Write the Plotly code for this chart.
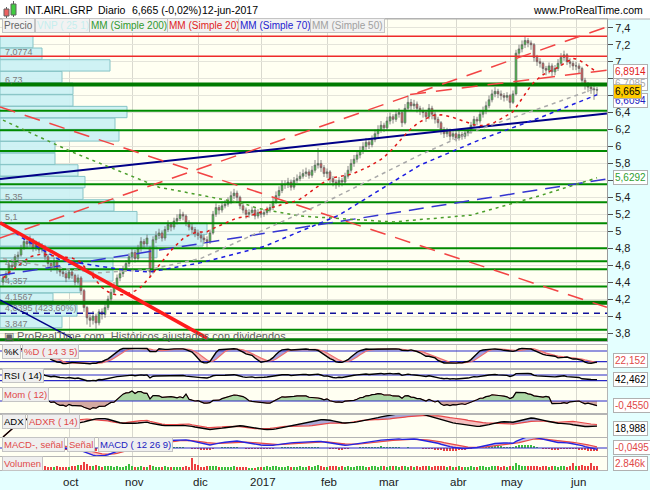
import numpy as np
import pandas as pd
import plotly.graph_objects as go

# ---------------- data ----------------
close = [4.45,4.50,4.60,4.58,4.70,4.72, 4.80,4.88,4.85,4.90,4.80,4.86,4.78,4.82, 4.70,4.62,4.58,4.65,4.55,4.52,
         4.50,4.45,4.52,4.48,4.40,4.45, 4.30,4.10,3.98, 3.95,4.00,3.92,4.05,4.02, 4.10,4.20,4.28,
         4.35,4.45,4.50,4.55,4.62, 4.70,4.75,4.68, 4.80,4.88,4.85,4.92,4.52, 4.90,4.95,4.98,4.92,
         5.02,5.08,5.05,5.12, 5.15,5.20,5.18,5.10, 5.05,5.02,4.98,4.95, 4.92,4.90,4.88,4.98,
         5.20,5.28,5.25,5.30,5.32, 5.35,5.42,5.45,5.40, 5.30,5.25,5.20,5.22, 5.25,5.18,5.22,5.20,
         5.22,5.25,5.28, 5.35,5.42,5.48,5.55, 5.55,5.58,5.52,5.60,5.62, 5.65,5.68,5.70,5.66,5.72,
         5.78,5.80,5.75,5.68,5.70, 5.62,5.58,5.55,5.60,5.58, 5.65,5.72,5.80,5.85,5.90,
         5.95,6.00,6.05,6.02,6.08, 6.15,6.20,6.25,6.22, 6.30,6.35,6.32,6.38,6.40, 6.28,6.45,6.52,6.48,
         6.50,6.45,6.42, 6.40,6.35,6.45,6.38, 6.32,6.28, 6.20,6.15,6.18,6.12,6.15,6.10,6.14,6.12,6.16,6.18,
         6.25,6.32,6.30, 6.38,6.42,6.48, 6.55,6.62,6.65, 6.62,6.60,6.58,6.60, 6.52,6.62, 7.10,
         7.15,7.20,7.25,7.22,7.20, 7.05,7.00,6.98, 6.92,6.90,6.95,6.88, 6.92,6.98,7.05,7.08,
         7.00,6.98,6.95, 6.95,6.92,6.78, 6.72,6.70,6.68, 6.67,6.665]
opens = [4.40,4.45,4.50,4.60,4.58,4.70, 4.72,4.80,4.88,4.85,4.90,4.80,4.86,4.78, 4.82,4.70,4.62,4.58,4.65,4.55,
         4.52,4.50,4.45,4.52,4.48,4.40, 4.45,4.30,4.10, 3.98,3.95,4.00,3.92,4.05, 4.02,4.10,4.20,
         4.28,4.35,4.45,4.50,4.55, 4.62,4.70,4.75, 4.68,4.80,4.88,4.85,4.80, 4.52,4.90,4.95,4.98,
         4.92,5.02,5.08,5.05, 5.12,5.15,5.20,5.18, 5.10,5.05,5.02,4.98, 4.95,4.92,4.90,4.88,
         4.98,5.20,5.28,5.25,5.30, 5.32,5.35,5.42,5.45, 5.40,5.30,5.25,5.20, 5.22,5.25,5.18,5.22,
         5.20,5.22,5.25, 5.28,5.35,5.42,5.48, 5.55,5.55,5.58,5.52,5.60, 5.62,5.65,5.68,5.70,5.66,
         5.72,5.78,5.80,5.75,5.68, 5.70,5.62,5.58,5.55,5.60, 5.58,5.65,5.72,5.80,5.85,
         5.90,5.95,6.00,6.05,6.02, 6.08,6.15,6.20,6.25, 6.22,6.30,6.35,6.32,6.38, 6.40,6.28,6.45,6.52,
         6.48,6.50,6.45, 6.42,6.40,6.35,6.45, 6.38,6.32, 6.28,6.20,6.15,6.18,6.12,6.15,6.10,6.14,6.12,6.16,
         6.18,6.25,6.32, 6.30,6.38,6.42, 6.48,6.55,6.62, 6.65,6.62,6.60,6.58, 6.60,6.52, 6.62,
         7.10,7.15,7.20,7.25,7.22, 7.20,7.05,7.00, 6.98,6.92,6.90,6.95, 6.88,6.92,6.98,7.05,
         7.08,7.00,6.98, 6.95,6.95,6.92, 6.78,6.72,6.70, 6.68,6.67]
highs = [4.48,4.53,4.63,4.64,4.73,4.76, 4.84,4.93,4.91,4.95,4.92,4.89,4.88,4.86, 4.84,4.73,4.66,4.69,4.67,4.59,
         4.56,4.53,4.56,4.55,4.50,4.49, 4.47,4.32,4.12, 4.02,4.06,4.03,4.08,4.09, 4.14,4.24,4.32,
         4.40,4.49,4.55,4.59,4.66, 4.74,4.80,4.78, 4.84,4.93,4.91,4.96,4.82, 4.94,5.00,5.03,5.01,
         5.06,5.13,5.11,5.16, 5.20,5.26,5.23,5.20, 5.13,5.09,5.05,5.02, 4.99,4.96,4.94,5.02,
         5.24,5.33,5.31,5.35,5.37, 5.40,5.47,5.50,5.48, 5.42,5.33,5.28,5.26, 5.29,5.28,5.26,5.25,
         5.26,5.29,5.32, 5.40,5.47,5.53,5.60, 5.60,5.63,5.61,5.64,5.67, 5.70,5.73,5.75,5.73,5.77,
         5.84,5.98,5.84,5.78,5.74, 5.72,5.65,5.61,5.64,5.63, 5.69,5.77,5.85,5.90,5.95,
         6.00,6.05,6.10,6.08,6.13, 6.20,6.25,6.30,6.28, 6.35,6.40,6.38,6.43,6.45, 6.42,6.50,6.60,6.56,
         6.55,6.53,6.48, 6.46,6.43,6.50,6.48, 6.41,6.35, 6.30,6.23,6.22,6.21,6.19,6.18,6.18,6.17,6.20,6.22,
         6.29,6.36,6.35, 6.42,6.47,6.53, 6.60,6.67,6.70, 6.68,6.66,6.63,6.64, 6.62,6.66, 7.14,
         7.20,7.25,7.30,7.28,7.25, 7.22,7.08,7.04, 7.00,6.95,6.99,6.98, 6.96,7.03,7.10,7.13,
         7.10,7.04,7.01, 7.00,6.98,6.94, 6.81,6.76,6.73, 6.72,6.70]
lows = [4.36,4.42,4.48,4.54,4.56,4.66, 4.70,4.78,4.80,4.82,4.76,4.77,4.74,4.75, 4.66,4.58,4.52,4.55,4.50,4.47,
        4.46,4.40,4.43,4.44,4.36,4.37, 4.25,4.05,3.90, 3.87,3.90,3.85,3.89,3.96, 3.98,4.07,4.16,
        4.25,4.32,4.41,4.46,4.52, 4.58,4.66,4.63, 4.65,4.76,4.80,4.82,4.45, 4.50,4.86,4.91,4.88,
        4.89,4.99,5.00,5.02, 5.08,5.12,5.13,5.06, 5.01,4.97,4.93,4.90, 4.87,4.85,4.81,4.85,
        4.96,5.17,5.20,5.22,5.27, 5.29,5.32,5.38,5.35, 5.26,5.21,5.15,5.16, 5.18,5.14,5.15,5.16,
        5.17,5.19,5.22, 5.25,5.32,5.39,5.45, 5.50,5.51,5.48,5.49,5.57, 5.59,5.62,5.64,5.62,5.63,
        5.69,5.74,5.70,5.64,5.63, 5.57,5.53,5.50,5.52,5.53, 5.55,5.62,5.69,5.76,5.81,
        5.86,5.91,5.96,5.97,5.99, 6.05,6.11,6.16,6.17, 6.19,6.26,6.27,6.29,6.34, 6.23,6.26,6.42,6.43,
        6.44,6.40,6.37, 6.34,6.29,6.32,6.32, 6.27,6.22, 6.14,6.10,6.11,6.07,6.08,6.06,6.07,6.08,6.09,6.12,
        6.15,6.22,6.25, 6.27,6.34,6.38, 6.45,6.52,6.58, 6.57,6.55,6.53,6.54, 6.45,6.50, 6.60,
        7.06,7.11,7.16,7.17,7.14, 7.00,6.95,6.93, 6.86,6.84,6.86,6.83, 6.84,6.89,6.95,7.01,
        6.96,6.93,6.90, 6.90,6.86,6.73, 6.67,6.64,6.62, 6.55,6.60]
volume_k = [1800,2200,2500,1900,2400,2100,2600,2300,1900,2000,2700,2200,1800,2100,2500,2300,1900,2100,2600,2200,2000,2400,
            2300,2800,2600,3200,3600,5400,4200,3000,2600,3400,2900,2400,2600,3100,2500,2200,2700,2400,2300,2600,4300,
            2500,2300,2100,2800,2400,2200,3500,2900,2400,2100,2300,2600,2200,2000,2400,2100,1900,2300,2500,2200,8500,4100,
            3600,2400,2200,2800,2500,3000,2600,2200,2000,2300,2100,1900,2500,2200,2000,1800,2100,1500,1300,1600,1900,
            2000,2200,2500,2300,2800,2600,2400,2100,2300,2700,2200,2000,2400,2600,2300,2100,2500,2200,2800,3200,2600,2400,
            2300,2700,3000,2500,2200,2600,2400,2800,2300,2100,2500,2900,2600,2400,2200,2700,2500,2300,2800,2600,
            2400,2600,2900,2500,2300,3100,2700,2400,2600,2200,2500,2300,2700,2500,2900,2400,2600,2800,3000,2500,2300,2600,2400,
            2200,2500,2300,2100,2400,2600,2300,2000,2500,2700,2400,2200,2600,2900,2500,2300,2700,2400,
            2600,3100,4800,3300,2900,2700,2500,2800,3000,2600,2400,2700,2500,2300,2600,2800,2400,2500,2700,2300,3000,4900,
            2600,2800,3200,2700,2500,4600,3000,2846]

month_names = ["oct", "nov", "dic", "2017", "feb", "mar", "abr", "may", "jun"]
month_first_bar = [22, 43, 65, 86, 108, 128, 151, 169, 191]

# price-axis ticks (labels hidden behind the value boxes are blank)
price_ticks = [3.8, 4.0, 4.2, 4.4, 4.6, 4.8, 5.0, 5.2, 5.4, 5.6, 5.8, 6.0, 6.2, 6.4, 6.6, 6.8, 7.0, 7.2, 7.4]
price_tick_text = ["3,8", "4", "4,2", "4,4", "4,6", "4,8", "5", "5,2", "5,4", "", "5,8", "6", "6,2", "6,4",
                   "", "", "7", "7,2", "7,4"]

# moving averages that need history before the first bar: read at sample bars
ma50_bar = [0, 12, 32, 49, 66, 86, 109, 139, 156, 179, 198]
ma50_val = [4.68, 4.60, 4.51, 4.55, 4.68, 5.00, 5.37, 5.90, 6.17, 6.45, 6.69]
ma70_bar = [0, 6, 19, 41, 49, 66, 87, 112, 139, 159, 179, 198]
ma70_val = [5.10, 4.93, 4.66, 4.54, 4.52, 4.63, 4.82, 5.19, 5.78, 6.08, 6.34, 6.61]
ma200_bar = [0, 23, 52, 80, 85, 99, 130, 156, 179, 198]
ma200_val = [6.31, 5.935, 5.52, 5.33, 5.27, 5.18, 5.11, 5.19, 5.42, 5.63]

# volume-by-price (VNP 25 1): bin centres and relative volumes
vnp_center = [3.929, 4.066, 4.204, 4.342, 4.479, 4.617, 4.754, 4.892, 5.030, 5.167, 5.305, 5.442, 5.580,
              5.718, 5.855, 5.993, 6.130, 6.268, 6.406, 6.543, 6.681, 6.819, 6.956, 7.094, 7.231]
vnp_volume = [62, 77, 53, 80, 113, 113, 157, 203, 207, 137, 114, 83, 85, 78, 55, 55, 119, 115, 127, 73, 73, 62, 110, 42, 33]
vnp_bin = 0.1376
vnp_text = ["7,0774", "6,73", "5,35", "5,1", "4,553", "4,357", "4,1567", "4,0395 (423,60%)", "3,847"]
vnp_text_price = [7.114, 6.784, 5.404, 5.168, 4.626, 4.414, 4.228, 4.100, 3.906]

# support / resistance levels
resist_levels = [7.30, 7.065]
support_thick = [6.73, 4.157, 3.715]
support_levels = [6.42, 6.19, 5.945, 5.555, 5.342, 5.095, 4.80, 4.645, 4.553, 4.35, 3.84]
dashed_level = [4.032]

# trend lines: (bar0, bar1), (price0, price1)
tl_red_thick = ([-1, 68], [5.10, 3.74])
tl_red_up = ([-1, 201.3], [4.92, 7.41])
tl_red_down = ([-1, 201.3], [6.465, 4.103])
tl_red_up2 = ([135.7, 201.3], [6.614, 6.90])
tl_navy = ([-1, 201.3], [5.616, 6.39])
tl_navy_short = ([-1, 23], [4.19, 3.74])
tl_blue_long = ([-1, 201.3], [4.48, 5.617])

# ---------------- geometry helpers ----------------
W, H = 650, 490
PLOT_R = 607
XR = [-1, (PLOT_R - 3) / 3]
FONT = "Liberation Sans, Arial, sans-serif"


def py(p):
    return 1 - p / H


def dom(top, bot):
    return [1 - bot / H, 1 - top / H]


n = len(close)
xs = np.arange(n)
c = pd.Series(close, dtype=float)
o = pd.Series(opens, dtype=float)
hi = pd.Series(highs, dtype=float)
lo = pd.Series(lows, dtype=float)

# ---------------- indicators ----------------
ma20 = c.rolling(20, min_periods=1).mean()

ll = lo.rolling(14, min_periods=1).min()
hh = hi.rolling(14, min_periods=1).max()
fk = 100 * (c - ll) / (hh - ll)
stk = fk.rolling(3, min_periods=1).mean()
std = stk.rolling(5, min_periods=1).mean()

delta = c.diff()
ag = delta.clip(lower=0).ewm(alpha=1 / 14, adjust=False).mean()
al = (-delta).clip(lower=0).ewm(alpha=1 / 14, adjust=False).mean()
rsi = (100 - 100 / (1 + ag / al)).bfill()

mom = c - c.shift(12)

up = hi.diff()
dn = -lo.diff()
pdm = pd.Series(np.where((up > dn) & (up > 0), up, 0.0))
mdm = pd.Series(np.where((dn > up) & (dn > 0), dn, 0.0))
tr = pd.concat([hi - lo, (hi - c.shift()).abs(), (lo - c.shift()).abs()], axis=1).max(axis=1)
atr = tr.ewm(alpha=1 / 14, adjust=False).mean()
pdi = 100 * pdm.ewm(alpha=1 / 14, adjust=False).mean() / atr
mdi = 100 * mdm.ewm(alpha=1 / 14, adjust=False).mean() / atr
dx = (100 * (pdi - mdi).abs() / (pdi + mdi)).fillna(0)
adx = dx.ewm(alpha=1 / 14, adjust=False).mean()
adxr = ((adx + adx.shift(14)) / 2).fillna(adx)

ema12 = c.ewm(span=12, adjust=False).mean()
ema26 = c.ewm(span=26, adjust=False).mean()
macd = ema12 - ema26
sig = macd.ewm(span=9, adjust=False).mean()
hist = macd - sig

# ---------------- figure ----------------
data = []


def line(xv, yv, color, width=1.0, dash=None, ax=1):
    xa = "x" if ax == 1 else f"x{ax}"
    ya = "y" if ax == 1 else f"y{ax}"
    d = dict(color=color, width=width)
    if dash:
        d["dash"] = dash
    data.append(go.Scatter(x=list(xv), y=list(yv), mode="lines", line=d, xaxis=xa, yaxis=ya,
                           hoverinfo="skip", connectgaps=False))


def two_fill(ref, val, c_up, c_dn, ax):
    xa, ya = f"x{ax}", f"y{ax}"
    ref = np.asarray(ref, dtype=float)
    val = np.asarray(val, dtype=float)
    upv = np.where(val >= ref, val, ref)
    dnv = np.where(val <= ref, val, ref)
    for arr, col in ((upv, c_up), (dnv, c_dn)):
        data.append(go.Scatter(x=xs, y=ref, mode="lines", line=dict(width=0), xaxis=xa, yaxis=ya, hoverinfo="skip"))
        data.append(go.Scatter(x=xs, y=arr, mode="lines", line=dict(width=0), fill="tonexty", fillcolor=col,
                               xaxis=xa, yaxis=ya, hoverinfo="skip"))


# --- price panel ---
scale = (XR[1] - XR[0]) / PLOT_R
data.append(go.Bar(y=vnp_center, x=[v * scale for v in vnp_volume], base=XR[0], orientation="h",
                   width=vnp_bin * 0.97, marker=dict(color="rgba(204,241,243,0.95)",
                                                     line=dict(color="#86c4c6", width=1)),
                   xaxis="x", yaxis="y", hoverinfo="skip"))
for lv in support_levels:
    line(XR, [lv, lv], "#008a00", 2)
for lv in support_thick:
    line(XR, [lv, lv], "#007a00", 4)
for lv in resist_levels:
    line(XR, [lv, lv], "#ee2a2a", 1.5)
for lv in dashed_level:
    line(XR, [lv, lv], "#10109a", 1.5, "6px,5px")

data.append(go.Candlestick(x=xs, open=opens, high=highs, low=lows, close=close,
                           increasing=dict(line=dict(color="#6a6a6a", width=0.8), fillcolor="#34d034"),
                           decreasing=dict(line=dict(color="#6a6a6a", width=0.8), fillcolor="#f05050"),
                           whiskerwidth=0, xaxis="x", yaxis="y", hoverinfo="skip"))

line(*tl_navy, "#000088", 2)
line(*tl_navy_short, "#000088", 1.5)
line(*tl_blue_long, "#3434d0", 1.5, "15px,8px")
line(*tl_red_up, "#f24444", 1.5, "16px,10px")
line(*tl_red_down, "#f24444", 1.5, "16px,10px")
line(*tl_red_up2, "#f24444", 1.5, "16px,10px")
line(ma200_bar, ma200_val, "#4a9e2a", 1.5, "3px,4px")
line(ma50_bar, ma50_val, "#a9a9a9", 1.5, "4px,4px")
line(ma70_bar, ma70_val, "#1c1ce0", 1.5, "4px,4px")
line(xs, ma20, "#e01818", 1.5, "3px,4px")
line(*tl_red_thick, "#ff1c1c", 3.5)

# --- stochastic ---
two_fill(std, stk, "#a4a4e0", "#f4b4b4", 2)
line(XR, [80, 80], "#2a2ac8", 1.2, ax=2)
line(XR, [20, 20], "#2a2ac8", 1.2, ax=2)
line(xs, std, "#ef7070", 1.2, ax=2)
line(xs, stk, "#000000", 1.4, ax=2)

# --- RSI ---
line(XR, [70, 70], "#2a2ac8", 1.2, ax=3)
line(XR, [30, 30], "#2a2ac8", 1.2, ax=3)
line(xs, rsi, "#000000", 1.4, ax=3)

# --- momentum ---
two_fill(np.zeros(n), mom, "#acd8a4", "#d4aaa2", 4)
line(XR, [0, 0], "#2a2ac8", 1.2, ax=4)
line(xs, mom, "#e46a6a", 1.0, ax=4)
line(xs, mom, "#000000", 1.2, ax=4)

# --- ADX / ADXR ---
two_fill(adxr, adx, "#aaaad8", "#f4c0c0", 5)
line(xs, adxr, "#e84848", 1.2, ax=5)
line(xs, adx, "#000000", 1.4, ax=5)

# --- MACD ---
two_fill(sig, macd, "#c4c4f0", "#f8c4c4", 6)
line(XR, [0, 0], "#2a2ac8", 1.2, ax=6)
data.append(go.Bar(x=xs, y=hist, width=0.35, marker=dict(color=np.where(hist >= 0, "#3cbf3c", "#e84040"), line=dict(width=0)),
                   xaxis="x6", yaxis="y6", hoverinfo="skip"))
line(xs, sig, "#e84848", 1.2, ax=6)
line(xs, macd, "#2424e0", 1.4, ax=6)

# --- volume ---
vcol = np.where(c.values >= o.values, "#3cbf3c", "#ec4040")
data.append(go.Bar(x=xs, y=volume_k, width=0.35, marker=dict(color=vcol, line=dict(width=0)),
                   xaxis="x7", yaxis="y7", hoverinfo="skip"))

fig = go.Figure(data=data)

panels = [
    (19, 341, [3.706, 7.503]),
    (345, 368, [-15.3, 113.6]),
    (370, 387, [-14.2, 105.1]),
    (388, 413, [-1.0, 1.083]),
    (415, 437, [0, 55]),
    (438, 456, [-0.170, 0.213]),
    (457, 470, [0, 9000]),
]
lay = {}
for i, (t, b, rng) in enumerate(panels, start=1):
    xk = "xaxis" if i == 1 else f"xaxis{i}"
    yk = "yaxis" if i == 1 else f"yaxis{i}"
    lay[xk] = dict(domain=[0, PLOT_R / W], anchor="y" if i == 1 else f"y{i}", range=XR,
                   tickvals=month_first_bar, showticklabels=False, ticks="", showgrid=True,
                   gridcolor="#d9d9cf", gridwidth=1, zeroline=False, showline=True, mirror=True,
                   linecolor="#b4b4b4", linewidth=1, fixedrange=True, automargin=False)
    if i == 1:
        lay[xk]["rangeslider"] = dict(visible=False)
        lay[yk] = dict(domain=dom(t, b), anchor="x", range=rng, side="right",
                       tickvals=price_ticks, ticktext=price_tick_text,
                       ticks="outside", ticklen=5, tickcolor="#505050", showgrid=True, gridcolor="#e4e4da",
                       zeroline=False, showline=True, mirror=True, linecolor="#9a9a9a",
                       tickfont=dict(size=11, color="#202020", family=FONT), fixedrange=True, automargin=False)
    else:
        lay[yk] = dict(domain=dom(t, b), anchor=f"x{i}", range=rng, side="right", showticklabels=False,
                       ticks="", showgrid=False, zeroline=False, showline=True, mirror=True,
                       linecolor="#b4b4b4", fixedrange=True, automargin=False)

shapes = [
    dict(type="rect", xref="paper", yref="paper", x0=PLOT_R / W, x1=1, y0=0, y1=py(19),
         fillcolor="#e4ffff", line=dict(width=0), layer="below"),
    dict(type="rect", xref="paper", yref="paper", x0=0, x1=1, y0=0, y1=py(471),
         fillcolor="#e4ffff", line=dict(width=0), layer="below"),
    dict(type="line", xref="paper", yref="paper", x0=0, x1=1, y0=py(19), y1=py(19),
         line=dict(color="#b0b0b0", width=1)),
    # candle icon in the header
    dict(type="line", xref="paper", yref="paper", x0=6.5 / W, x1=6.5 / W, y0=py(18), y1=py(7), line=dict(color="#606060", width=1)),
    dict(type="rect", xref="paper", yref="paper", x0=4 / W, x1=9 / W, y0=py(16), y1=py(9),
         fillcolor="#ec6060", line=dict(color="#606060", width=1)),
    dict(type="line", xref="paper", yref="paper", x0=13.5 / W, x1=13.5 / W, y0=py(17), y1=py(1), line=dict(color="#606060", width=1)),
    dict(type="rect", xref="paper", yref="paper", x0=11 / W, x1=16 / W, y0=py(15), y1=py(4),
         fillcolor="#40cc40", line=dict(color="#606060", width=1)),
]

ann = []


def note(text, x, y, color="#000000", size=10, bg=None, xanchor="left", xref="paper", yref="paper",
         yshift=0, border=None):
    a = dict(text=text, x=x, y=y, xref=xref, yref=yref, showarrow=False, xanchor=xanchor, yanchor="middle",
             font=dict(size=size, color=color, family=FONT), yshift=yshift)
    if bg:
        a.update(bgcolor=bg, bordercolor=border or "#c4c4c4", borderwidth=1, borderpad=1)
    ann.append(a)


# header
note("INT.AIRL.GRP", 23 / W, py(10), size=10.5)
note("Diario", 96 / W, py(10), size=10.5)
note("6,665 (-0,02%)", 130 / W, py(10), size=10.5)
note("12-jun-2017", 200 / W, py(10), size=10.5)
note("www.ProRealTime.com", 645 / W, py(10), size=10.5, xanchor="right")

# price legend boxes
for txt, xp, col in [("Precio", 2, "#666666"), ("VNP ( 25 1)", 35, "#c6eeee"), ("MM (Simple 200)", 89, "#2f9a2f"),
                     ("MM (Simple 20)", 167, "#e01c1c"), ("MM (Simple 70)", 238, "#1c1cd0"),
                     ("MM (Simple 50)", 310, "#a0a0a0")]:
    note(txt, xp / W, py(26), col, 10, bg="#f2f2f2")

# VNP labels
for txt, pr in zip(vnp_text, vnp_text_price):
    note(txt, 3 / W, pr, "#7c7c7c", 9, yref="y")

note("\u25a3 ProRealTime.com  Históricos ajustados con dividendos", 2 / W, py(336), "#606060", 11)

# right-hand value labels on price axis
note("6,7085", 613 / W, 6.745, "#a8a8a8", 10, bg="#ffffff", yref="y", border="#b0b0b0")
note("6,6094", 613 / W, 6.545, "#2020c0", 10, bg="#ffffff", yref="y", border="#b0b0b0")
note("6,8914", 613 / W, 6.885, "#e02020", 10, bg="#ffffff", yref="y", border="#b0b0b0")
note("6,665", 613 / W, 6.645, "#000000", 10, bg="#ffcc00", yref="y", border="#b0b0b0")
note("5,6292", 613 / W, 5.629, "#30a030", 10, bg="#ffffff", yref="y", border="#b0b0b0")

# sub-panel names
for txt, xp, ypx, col in [("%K", 2, 351, "#000000"), ("%D ( 14 3 5)", 22, 351, "#e04848"),
                          ("RSI ( 14)", 2, 375.5, "#000000"), ("Mom ( 12)", 2, 394, "#e04848"),
                          ("ADX", 2, 421, "#000000"), ("ADXR ( 14)", 27, 421, "#e04848"),
                          ("MACD-, señal", 2, 444, "#e04848"), ("Señal", 67, 444, "#e04848"),
                          ("MACD ( 12 26 9)", 98, 444, "#2020c0"), ("Volumen", 2, 463, "#e04848")]:
    note(txt, xp / W, py(ypx), col, 9.5, bg="#efefef")

# sub-panel last values
for txt, ypx, col in [("22,152", 360, "#e04848"), ("42,462", 379, "#000000"), ("-0,4550", 405.7, "#e04848"),
                      ("18,988", 428.7, "#000000"), ("-0,0495", 447.3, "#e04848"), ("2.846k", 463.3, "#e04848")]:
    note(txt, 613 / W, py(ypx), col, 10, bg="#ffffff", border="#b0b0b0")

# month labels
for nm, b in zip(month_names, month_first_bar):
    ann.append(dict(text=nm, x=b, y=py(482), xref="x7", yref="paper", showarrow=False, xanchor="center",
                    yanchor="middle", xshift=2, font=dict(size=11.5, color="#202020", family=FONT)))

fig.update_layout(width=W, height=H, margin=dict(l=0, r=0, t=0, b=0), paper_bgcolor="#ffffff",
                  plot_bgcolor="#fffff2", showlegend=False, separators=",.", hovermode=False,
                  font=dict(family=FONT), shapes=shapes, annotations=ann, bargap=0, boxgap=0.15,
                  dragmode=False, **lay)
fig.write_html("out.html", config={"displayModeBar": False, "staticPlot": True},
               post_script="document.body.style.margin='0';document.body.style.padding='0';")
